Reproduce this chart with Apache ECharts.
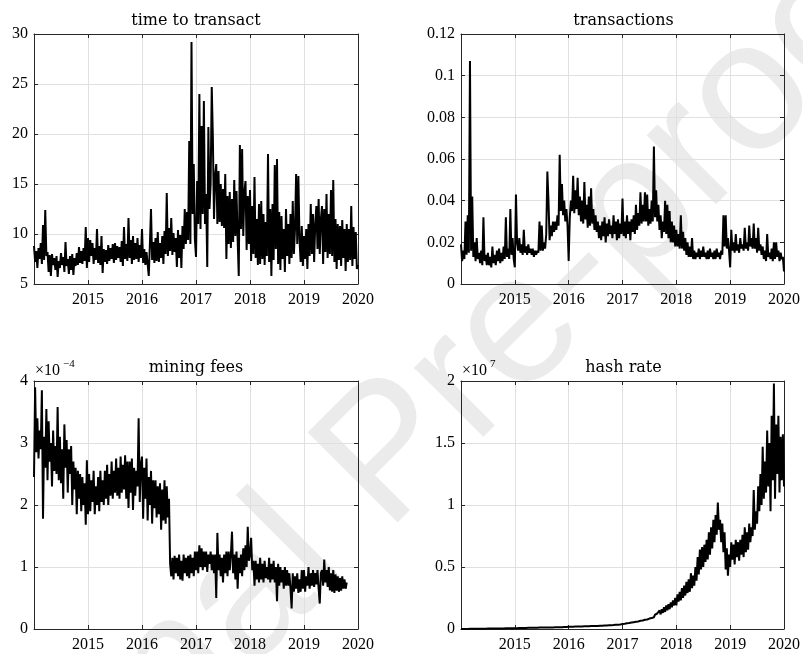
<!DOCTYPE html>
<html><head><meta charset="utf-8">
<script src="https://cdn.jsdelivr.net/npm/echarts@6/dist/echarts.min.js"></script>
<style>html,body{margin:0;padding:0;background:#fff}#c{width:803px;height:654px}</style>
</head><body><div id="c"></div>
<script>
// ---- data: one reading per ~week (48 per year), starting 2014.0 ----
const startYear = 2014;
const samplesPerYear = 48;

const titles = ['time to transact', 'transactions', 'mining fees', 'hash rate'];
const xTickLabels = ['2015', '2016', '2017', '2018', '2019', '2020'];
const yTicksTime = ['5', '10', '15', '20', '25', '30'];
const yTicksTx = ['0', '0.02', '0.04', '0.06', '0.08', '0.1', '0.12'];
const yTicksFees = ['0', '1', '2', '3', '4'];
const yTicksHash = ['0', '0.5', '1', '1.5', '2'];
const feesExponent = '\u22124';
const hashExponent = '7';

const timeToTransact = [
  // 2014
  8.8, 7.2, 8.3, 6.6, 8.6, 7.5, 9.1, 7.0, 10.9, 7.4, 12.4, 7.8,
  8.2, 6.2, 7.9, 5.8, 8.0, 6.9, 7.6, 6.4, 7.8, 5.7, 7.3, 6.6,
  8.1, 6.9, 7.7, 6.2, 9.2, 6.8, 7.5, 6.0, 7.8, 6.4, 8.0, 5.9,
  7.6, 6.8, 8.1, 6.9, 8.7, 7.1, 8.3, 7.0, 8.6, 7.3, 10.7, 6.6,
  // 2015
  9.6, 7.2, 9.4, 7.8, 9.1, 7.0, 8.6, 7.4, 10.5, 7.1, 8.8, 6.9,
  9.8, 6.1, 8.5, 7.2, 8.4, 7.0, 8.9, 7.3, 8.6, 7.5, 9.0, 7.1,
  9.1, 7.4, 8.8, 7.6, 8.7, 7.2, 9.3, 6.8, 10.7, 7.5, 9.0, 7.3,
  11.6, 7.6, 9.4, 7.0, 9.8, 7.4, 9.1, 7.5, 9.6, 7.2, 8.9, 7.6,
  // 2016
  10.5, 7.1, 8.5, 6.9, 8.2, 7.0, 5.8, 8.9, 12.5, 7.4, 9.2, 7.1,
  9.6, 7.3, 10.2, 7.2, 9.1, 7.6, 9.8, 7.0, 10.3, 8.0, 14.1, 7.8,
  10.6, 8.3, 11.6, 7.9, 10.1, 8.2, 9.6, 6.7, 10.4, 7.6, 9.9, 6.6,
  10.8, 8.5, 12.5, 9.0, 12.2, 9.4, 19.3, 9.0, 29.2, 12.0, 17.0, 9.5,
  // 2017
  7.7, 15.3, 11.0, 24.0, 10.5, 20.8, 12.0, 23.3, 11.0, 14.0, 6.7, 20.7,
  12.5, 15.0, 24.7, 19.6, 11.5, 15.8, 17.0, 11.0, 16.3, 11.2, 15.0, 10.8,
  14.5, 10.6, 16.0, 7.5, 13.8, 9.0, 14.2, 8.6, 13.5, 9.2, 15.4, 9.8,
  14.3, 9.5, 5.8, 18.9, 10.5, 18.5, 9.8, 14.2, 15.3, 8.4, 13.8, 9.0,
  // 2018
  14.4, 7.3, 12.8, 8.0, 15.7, 7.6, 11.5, 6.9, 13.0, 7.0, 13.3, 7.5,
  12.0, 6.9, 11.2, 7.8, 18.0, 7.2, 12.5, 5.8, 13.0, 7.4, 16.9, 8.5,
  17.5, 7.0, 12.2, 6.4, 11.8, 7.5, 10.5, 6.2, 12.5, 7.8, 11.0, 7.0,
  12.0, 7.6, 13.3, 8.0, 10.5, 16.0, 9.0, 15.8, 9.5, 7.2, 10.8, 6.8,
  // 2019
  9.8, 7.5, 10.5, 6.5, 11.0, 7.8, 13.0, 8.0, 12.0, 7.2, 11.0, 12.8,
  8.5, 13.5, 8.0, 11.5, 12.8, 7.0, 12.5, 8.2, 14.0, 7.6, 12.0, 8.0,
  14.4, 7.8, 15.4, 7.2, 11.5, 6.5, 11.0, 7.4, 10.8, 6.8, 11.4, 7.6,
  10.5, 6.3, 11.0, 7.2, 10.5, 7.4, 12.8, 6.8, 10.7, 7.5, 10.2, 6.5,
  // 2020.0
  6.9
];

const transactions = [
  // 2014
  0.019, 0.011, 0.016, 0.012, 0.030, 0.014, 0.033, 0.015, 0.107, 0.016, 0.042, 0.013,
  0.020, 0.011, 0.022, 0.012, 0.015, 0.010, 0.016, 0.009, 0.032, 0.011, 0.014, 0.009,
  0.015, 0.009, 0.013, 0.008, 0.018, 0.010, 0.014, 0.009, 0.016, 0.011, 0.017, 0.010,
  0.015, 0.011, 0.018, 0.012, 0.032, 0.013, 0.017, 0.012, 0.036, 0.014, 0.022, 0.012,
  // 2015
  0.008, 0.043, 0.020, 0.016, 0.022, 0.015, 0.019, 0.014, 0.026, 0.015, 0.018, 0.014,
  0.019, 0.015, 0.017, 0.014, 0.017, 0.013, 0.016, 0.014, 0.016, 0.015, 0.030, 0.016,
  0.028, 0.016, 0.020, 0.017, 0.024, 0.054, 0.040, 0.021, 0.028, 0.023, 0.030, 0.025,
  0.030, 0.026, 0.033, 0.028, 0.062, 0.035, 0.048, 0.033, 0.040, 0.030, 0.036, 0.028,
  // 2016
  0.011, 0.032, 0.040, 0.035, 0.052, 0.034, 0.045, 0.036, 0.051, 0.033, 0.042, 0.030,
  0.040, 0.029, 0.049, 0.031, 0.038, 0.027, 0.042, 0.028, 0.046, 0.029, 0.036, 0.026,
  0.033, 0.025, 0.030, 0.022, 0.028, 0.021, 0.030, 0.023, 0.032, 0.020, 0.029, 0.023,
  0.031, 0.024, 0.028, 0.022, 0.033, 0.024, 0.030, 0.021, 0.031, 0.022, 0.029, 0.024,
  // 2017
  0.041, 0.023, 0.030, 0.022, 0.033, 0.024, 0.030, 0.021, 0.031, 0.025, 0.033, 0.024,
  0.038, 0.026, 0.034, 0.028, 0.044, 0.029, 0.038, 0.030, 0.044, 0.030, 0.043, 0.028,
  0.036, 0.029, 0.040, 0.030, 0.066, 0.032, 0.045, 0.030, 0.038, 0.026, 0.033, 0.022,
  0.030, 0.025, 0.040, 0.024, 0.038, 0.022, 0.035, 0.020, 0.030, 0.020, 0.028, 0.018,
  // 2018
  0.026, 0.018, 0.024, 0.017, 0.033, 0.017, 0.025, 0.016, 0.022, 0.014, 0.020, 0.013,
  0.018, 0.013, 0.022, 0.012, 0.016, 0.012, 0.015, 0.013, 0.017, 0.012, 0.016, 0.013,
  0.018, 0.013, 0.015, 0.012, 0.016, 0.012, 0.017, 0.013, 0.015, 0.012, 0.016, 0.012,
  0.017, 0.013, 0.015, 0.012, 0.016, 0.014, 0.033, 0.018, 0.033, 0.017, 0.022, 0.016,
  // 2019
  0.008, 0.026, 0.016, 0.020, 0.015, 0.024, 0.016, 0.019, 0.015, 0.022, 0.017, 0.019,
  0.016, 0.027, 0.017, 0.020, 0.016, 0.028, 0.018, 0.022, 0.017, 0.029, 0.017, 0.022,
  0.015, 0.027, 0.016, 0.019, 0.014, 0.018, 0.012, 0.016, 0.011, 0.024, 0.013, 0.015,
  0.012, 0.017, 0.011, 0.020, 0.012, 0.020, 0.013, 0.016, 0.011, 0.015, 0.012, 0.013,
  // 2020.0
  0.006
];

// mining fees, in units of 1e-4 (series ends in October 2019)
const miningFeesE4 = [
  // 2014
  2.45, 3.90, 2.85, 3.40, 2.75, 3.20, 2.90, 3.85, 1.78, 3.10, 2.60, 3.55,
  2.40, 3.35, 2.70, 3.00, 2.30, 3.20, 2.55, 2.95, 2.50, 3.58, 2.40, 3.10,
  2.35, 2.90, 2.10, 3.30, 2.60, 3.05, 2.20, 2.90, 2.50, 2.95, 2.00, 2.70,
  2.25, 2.60, 1.85, 2.55, 2.10, 2.50, 1.90, 2.45, 2.00, 2.35, 1.68, 2.72,
  // 2015
  1.85, 2.50, 1.90, 2.40, 2.05, 2.55, 1.85, 2.30, 2.00, 2.45, 1.90, 2.55,
  2.05, 2.40, 2.00, 2.55, 2.10, 2.65, 2.00, 2.50, 2.15, 2.70, 2.10, 2.55,
  2.20, 2.75, 2.15, 2.60, 2.10, 2.78, 2.20, 2.65, 2.25, 2.80, 2.10, 2.70,
  1.95, 2.70, 2.20, 2.75, 1.92, 2.60, 2.15, 2.55, 2.30, 3.40, 2.05, 2.65,
  // 2016
  2.78, 1.78, 2.60, 2.10, 2.75, 1.75, 2.45, 2.00, 2.55, 1.70, 2.40, 1.95,
  2.40, 1.80, 2.30, 1.85, 2.35, 1.60, 2.25, 1.75, 2.40, 1.70, 2.30, 1.80,
  2.10, 1.05, 0.85, 1.15, 0.80, 1.18, 0.90, 1.15, 0.85, 1.20, 0.80, 1.10,
  0.78, 1.20, 0.90, 1.15, 0.85, 1.18, 0.82, 1.20, 0.90, 1.15, 0.85, 1.25,
  // 2017
  0.95, 1.25, 0.90, 1.35, 1.00, 1.30, 0.95, 1.25, 1.00, 1.25, 0.92, 1.20,
  1.05, 1.25, 0.95, 1.20, 0.90, 1.20, 0.50, 1.55, 0.95, 1.20, 0.85, 1.15,
  0.75, 1.20, 0.90, 1.25, 0.85, 1.25, 0.95, 1.20, 1.57, 0.90, 1.20, 0.80,
  1.25, 0.65, 1.15, 0.90, 1.20, 0.85, 1.30, 0.95, 1.35, 1.00, 1.65, 1.10,
  // 2018
  1.20, 1.47, 0.95, 1.10, 0.70, 1.10, 0.80, 1.05, 0.75, 1.15, 0.80, 1.05,
  0.75, 1.10, 0.82, 1.00, 0.80, 1.15, 0.75, 1.05, 0.80, 1.10, 0.75, 1.00,
  0.45, 1.05, 0.70, 1.00, 0.75, 0.95, 0.65, 1.00, 0.70, 0.95, 0.70, 0.90,
  0.65, 0.33, 0.90, 0.60, 0.85, 0.65, 0.90, 0.58, 0.80, 0.60, 0.95, 0.65,
  // 2019 (to October)
  0.95, 0.60, 0.85, 0.70, 1.00, 0.65, 0.90, 0.70, 0.95, 0.68, 0.90, 0.72,
  0.95, 0.65, 0.41, 0.90, 0.95, 0.70, 1.12, 0.75, 0.95, 0.68, 1.00, 0.62,
  0.90, 0.60, 0.95, 0.58, 0.88, 0.62, 0.85, 0.60, 0.82, 0.62, 0.85, 0.65,
  0.80, 0.65, 0.75
];

// hash rate, in units of 1e7
const hashRateE7 = [
  // 2014
  0.001, 0.001, 0.001, 0.001, 0.001, 0.002, 0.001, 0.002, 0.002, 0.002, 0.002, 0.002,
  0.002, 0.003, 0.002, 0.003, 0.003, 0.003, 0.003, 0.003, 0.003, 0.004, 0.003, 0.004,
  0.004, 0.004, 0.004, 0.004, 0.004, 0.005, 0.004, 0.005, 0.005, 0.005, 0.005, 0.005,
  0.005, 0.006, 0.005, 0.006, 0.006, 0.006, 0.006, 0.006, 0.007, 0.006, 0.007, 0.007,
  // 2015
  0.007, 0.008, 0.007, 0.008, 0.008, 0.008, 0.009, 0.008, 0.009, 0.009, 0.009, 0.010,
  0.010, 0.009, 0.010, 0.010, 0.010, 0.011, 0.010, 0.011, 0.011, 0.011, 0.012, 0.011,
  0.012, 0.012, 0.012, 0.013, 0.013, 0.012, 0.013, 0.013, 0.013, 0.014, 0.013, 0.014,
  0.014, 0.015, 0.014, 0.015, 0.015, 0.016, 0.015, 0.016, 0.016, 0.017, 0.016, 0.017,
  // 2016
  0.018, 0.017, 0.018, 0.019, 0.018, 0.019, 0.020, 0.019, 0.020, 0.019, 0.021, 0.020,
  0.021, 0.020, 0.022, 0.021, 0.022, 0.021, 0.023, 0.022, 0.024, 0.022, 0.025, 0.023,
  0.025, 0.040, 0.024, 0.026, 0.026, 0.025, 0.027, 0.026, 0.028, 0.026, 0.029, 0.028,
  0.030, 0.028, 0.031, 0.029, 0.032, 0.030, 0.034, 0.031, 0.035, 0.033, 0.037, 0.034,
  // 2017
  0.040, 0.045, 0.042, 0.048, 0.046, 0.052, 0.048, 0.055, 0.052, 0.058, 0.055, 0.062,
  0.058, 0.066, 0.061, 0.069, 0.066, 0.072, 0.068, 0.078, 0.074, 0.082, 0.077, 0.088,
  0.084, 0.095, 0.088, 0.102, 0.095, 0.115, 0.100, 0.125, 0.110, 0.150, 0.118, 0.160,
  0.130, 0.175, 0.138, 0.190, 0.150, 0.200, 0.160, 0.215, 0.175, 0.230, 0.190, 0.250,
  // 2018
  0.190, 0.280, 0.220, 0.300, 0.230, 0.330, 0.250, 0.350, 0.270, 0.380, 0.290, 0.400,
  0.300, 0.450, 0.330, 0.430, 0.350, 0.500, 0.390, 0.580, 0.440, 0.640, 0.480, 0.660,
  0.500, 0.680, 0.540, 0.720, 0.560, 0.780, 0.600, 0.820, 0.650, 0.880, 0.700, 0.920,
  0.760, 1.020, 0.800, 0.880, 0.700, 0.850, 0.620, 0.780, 0.480, 0.650, 0.430, 0.600,
  // 2019
  0.500, 0.700, 0.560, 0.680, 0.520, 0.720, 0.580, 0.700, 0.550, 0.720, 0.600, 0.760,
  0.580, 0.820, 0.620, 0.780, 0.640, 0.850, 0.700, 0.820, 0.750, 1.120, 0.800, 0.950,
  0.850, 1.150, 0.950, 1.250, 1.000, 1.470, 1.050, 1.350, 1.100, 1.600, 1.150, 1.500,
  0.950, 1.720, 1.200, 1.980, 1.050, 1.650, 1.250, 1.720, 1.100, 1.550, 1.200, 1.570,
  // 2020.0
  1.150
];

// ---- chart ----
const AX = '#262626';
const GRIDC = '#e0e0e0';
const serifTick = '"Liberation Serif", "Times New Roman", serif';
const tickFont = { fontFamily: serifTick, fontSize: 16, color: '#000' };

const grids = [
  { left: 34, top: 34, width: 324, height: 250 },
  { left: 461, top: 34, width: 325, height: 250 },
  { left: 34, top: 381, width: 324, height: 248 },
  { left: 461, top: 381, width: 325, height: 248 }
];
const yRanges = [
  { min: 5, max: 30, interval: 5, labels: yTicksTime },
  { min: 0, max: 0.12, interval: 0.02, labels: yTicksTx },
  { min: 0, max: 4, interval: 1, labels: yTicksFees },
  { min: 0, max: 2, interval: 0.5, labels: yTicksHash }
];
const seriesData = [timeToTransact, transactions, miningFeesE4, hashRateE7];

function toPairs(vals) {
  return vals.map((v, i) => [startYear + i / samplesPerYear, v]);
}

const xAxis = [], yAxis = [], series = [];
grids.forEach((g, gi) => {
  const lineCommon = { show: true, onZero: false, lineStyle: { color: AX, width: 1 } };
  const tickCommon = { show: true, inside: true, length: 4, lineStyle: { color: AX, width: 1 } };
  xAxis.push({
    type: 'value', gridIndex: gi, min: startYear, max: 2020, interval: 1, position: 'bottom',
    axisLine: lineCommon, axisTick: tickCommon,
    axisLabel: Object.assign({}, tickFont, {
      margin: 8, showMinLabel: true, showMaxLabel: true,
      formatter: (v) => { const k = xTickLabels.indexOf(String(Math.round(v))); return k >= 0 ? xTickLabels[k] : ''; }
    }),
    splitLine: { show: true, lineStyle: { color: GRIDC, width: 1 } }
  });
  xAxis.push({
    type: 'value', gridIndex: gi, min: startYear, max: 2020, interval: 1, position: 'top',
    axisLine: lineCommon, axisTick: tickCommon, axisLabel: { show: false }, splitLine: { show: false }
  });
  const yr = yRanges[gi];
  yAxis.push({
    type: 'value', gridIndex: gi, min: yr.min, max: yr.max, interval: yr.interval, position: 'left',
    axisLine: lineCommon, axisTick: tickCommon,
    axisLabel: Object.assign({}, tickFont, {
      margin: 6, showMinLabel: true, showMaxLabel: true,
      formatter: (v) => yr.labels[Math.round((v - yr.min) / yr.interval)] || ''
    }),
    splitLine: { show: true, lineStyle: { color: GRIDC, width: 1 } }
  });
  yAxis.push({
    type: 'value', gridIndex: gi, min: yr.min, max: yr.max, interval: yr.interval, position: 'right',
    axisLine: lineCommon, axisTick: tickCommon, axisLabel: { show: false }, splitLine: { show: false }
  });
  series.push({
    type: 'line', xAxisIndex: gi * 2, yAxisIndex: gi * 2, data: toPairs(seriesData[gi]),
    showSymbol: false, symbol: 'none', z: 5, sampling: null,
    lineStyle: { color: '#000', width: 2 }, animation: false
  });
});

function txt(x, y, text, size, family, align, extra) {
  return Object.assign({
    type: 'text', x: x, y: y, z: 10, silent: true,
    style: { text: text, fontSize: size, fontFamily: family, fill: '#000',
             align: align, verticalAlign: 'middle', textAlign: align, textVerticalAlign: 'middle' }
  }, extra || {});
}

const graphic = [];
// "Journal Pre-proof" watermark
graphic.push({
  type: 'text', x: 391, y: 457, rotation: Math.PI / 4, z: -10, silent: true,
  style: { text: 'Journal Pre-proof', fontSize: 185, fontFamily: '"Liberation Sans", Arial, sans-serif', fill: '#ebebeb',
           align: 'center', verticalAlign: 'middle', textAlign: 'center', textVerticalAlign: 'middle' }
});
const titlePos = [[196, 21], [623.5, 21], [196, 368], [623.5, 368]];
titles.forEach((t, i) => graphic.push(txt(titlePos[i][0], titlePos[i][1], t, 16, '"DejaVu Serif", serif', 'center')));
// exponent labels (x10^-4, x10^7)
graphic.push(txt(35, 371, '\u00d710', 16, serifTick, 'left'));
graphic.push(txt(63, 364, feesExponent, 11, serifTick, 'left'));
graphic.push(txt(462, 371, '\u00d710', 16, serifTick, 'left'));
graphic.push(txt(490, 364, hashExponent, 11, serifTick, 'left'));

const chart = echarts.init(document.getElementById('c'), null, { renderer: 'canvas' });
chart.setOption({
  backgroundColor: '#fff',
  animation: false,
  grid: grids,
  xAxis: xAxis,
  yAxis: yAxis,
  series: series,
  graphic: graphic
});
</script>
</body></html>
